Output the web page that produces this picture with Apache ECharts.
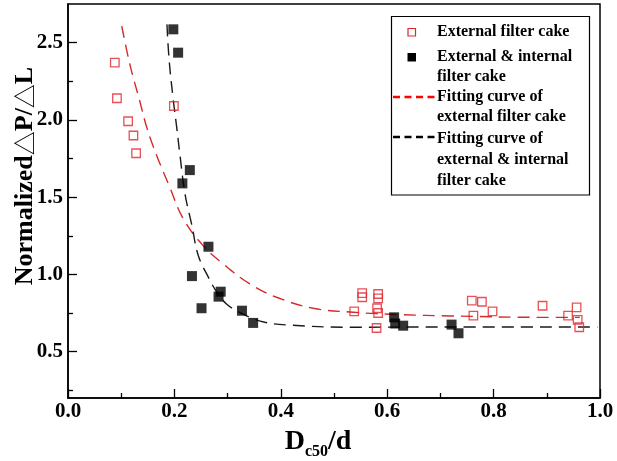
<!DOCTYPE html>
<html><head><meta charset="utf-8">
<script src="https://cdn.jsdelivr.net/npm/echarts@6/dist/echarts.min.js"></script>
<style>html,body{margin:0;background:#fff}#c{width:617px;height:461px}</style>
</head><body><div id="c"></div>
<script>
// External filter cake (open red squares)
const extX = [0.088,0.092,0.113,0.123,0.128,0.199,0.538,0.553,0.553,0.583,0.583,0.581,0.583,0.580,0.759,0.778,0.762,0.798,0.892,0.940,0.956,0.958,0.961];
const extY = [2.371,2.140,1.991,1.899,1.784,2.090,0.761,0.879,0.852,0.873,0.845,0.781,0.750,0.653,0.830,0.823,0.733,0.761,0.797,0.733,0.787,0.705,0.658];
// External & internal filter cake (filled black squares)
const intX = [0.198,0.207,0.229,0.215,0.264,0.233,0.287,0.283,0.251,0.327,0.348,0.613,0.615,0.630,0.721,0.734];
const intY = [2.586,2.435,1.675,1.589,1.179,0.989,0.888,0.856,0.781,0.765,0.686,0.722,0.682,0.668,0.675,0.619];
// Fitting curve of external filter cake
const fitExtX = [0.101,0.117,0.134,0.149,0.167,0.189,0.217,0.254,0.292,0.342,0.392,0.461,0.536,0.624,0.718,0.900,0.962];
const fitExtY = [2.607,2.349,2.133,1.940,1.767,1.584,1.358,1.186,1.067,0.938,0.852,0.781,0.755,0.740,0.731,0.722,0.722];
// Fitting curve of external & internal filter cake
const fitIntX = [0.186,0.190,0.197,0.204,0.211,0.220,0.233,0.245,0.264,0.280,0.298,0.317,0.342,0.370,0.411,0.530,0.718,0.995];
const fitIntY = [2.618,2.392,2.155,1.961,1.757,1.519,1.315,1.121,0.981,0.884,0.808,0.765,0.722,0.690,0.673,0.658,0.660,0.660];
// Tick labels
const xTickLabels = ['0.0','0.2','0.4','0.6','0.8','1.0'];
const yTickValues = [0.5,1.0,1.5,2.0,2.5];
const yMinorTicks = [0.25,0.75,1.25,1.75,2.25];
const legendNames = ['External filter cake','External & internal\nfilter cake','Fitting curve of\nexternal filter cake','Fitting curve of\nexternal & internal\nfilter cake'];

const zip = (a,b) => a.map((v,i)=>[v,b[i]]);
const FONT = '"Liberation Serif","Times New Roman",serif';
const CJK = '"Noto Sans CJK SC","Noto Sans CJK JP",sans-serif';
const RED = '#e0262a';

const chart = echarts.init(document.getElementById('c'), null, {renderer:'canvas'});

const legendRows = [32,57,77,97,117,139,160,181];
const lx = 437;
function txt(t, y){ return {type:'text', x:lx, y:y, z:11, style:{text:t, font:'bold 16px '+FONT, fill:'#000', verticalAlign:'middle'}}; }
const leg1 = legendNames[0].split('\n'), leg2 = legendNames[1].split('\n'), leg3 = legendNames[2].split('\n'), leg4 = legendNames[3].split('\n');

chart.setOption({
  animation:false,
  backgroundColor:'#fff',
  grid:{left:68, right:17, top:4, bottom:63, outerBoundsMode:'none', containLabel:false,
    show:true, borderColor:'#000', borderWidth:1.5, backgroundColor:'transparent'},
  xAxis:{
    type:'value', min:0, max:1, interval:0.2,
    name:'{a|D}{b|c50}{a|/d}', nameLocation:'middle', nameGap:26, nameMoveOverlap:false,
    nameTextStyle:{padding:[0,32,0,0], rich:{
      a:{fontFamily:FONT, fontWeight:'bold', fontSize:28, color:'#000', lineHeight:32, verticalAlign:'bottom'},
      b:{fontFamily:FONT, fontWeight:'bold', fontSize:16, color:'#000', lineHeight:18, verticalAlign:'bottom', padding:[0,0,-4,0]}
    }},
    axisLine:{lineStyle:{color:'#000', width:1.5}},
    axisTick:{inside:true, length:9, lineStyle:{color:'#000', width:1.3}},
    minorTick:{show:true, splitNumber:2, length:5, lineStyle:{color:'#000', width:1.3}},
    splitLine:{show:false},
    axisLabel:{fontFamily:FONT, fontWeight:'bold', fontSize:21, color:'#000', margin:3,
      formatter:(v)=>{const i=Math.round(v/0.2); return xTickLabels[i] ?? '';}}
  },
  yAxis:[{
    type:'value', min:0.2, max:2.75, position:'left',
    name:'{n|Normalized}{t|△}{n|P/}{t|△}{n|L}', nameLocation:'middle', nameRotate:90, nameGap:30, nameMoveOverlap:false,
    nameTextStyle:{padding:[0,0,0,50], rich:{
      n:{fontFamily:FONT, fontWeight:'bold', fontSize:26, color:'#000'},
      t:{fontFamily:CJK, fontWeight:'normal', fontSize:24, color:'#000'}
    }},
    axisLine:{show:true, lineStyle:{color:'#000', width:1.5}},
    axisTick:{inside:true, length:9, customValues:yTickValues, lineStyle:{color:'#000', width:1.3}},
    splitLine:{show:false},
    axisLabel:{customValues:yTickValues, fontFamily:FONT, fontWeight:'bold', fontSize:21, color:'#000', margin:5,
      formatter:(v)=>v.toFixed(1)}
  },{
    type:'value', min:0.2, max:2.75, position:'left', offset:0,
    axisLine:{show:false},
    axisTick:{show:true, inside:true, length:5, customValues:yMinorTicks, lineStyle:{color:'#000', width:1.3}},
    axisLabel:{show:false}, splitLine:{show:false}
  }],
  series:[
    {type:'line', name:legendNames[2], data:zip(fitExtX,fitExtY), smooth:0.4, showSymbol:false, symbol:'none',
      lineStyle:{color:'#d42a2a', width:1.4, type:[12,7]}, z:2},
    {type:'line', name:legendNames[3], data:zip(fitIntX,fitIntY), smooth:0.4, showSymbol:false, symbol:'none',
      lineStyle:{color:'#1a1a1a', width:1.4, type:[12,7]}, z:2},
    {type:'scatter', name:legendNames[0], data:zip(extX,extY), symbol:'rect', symbolSize:8.5,
      itemStyle:{color:'rgba(255,255,255,0)', borderColor:RED, borderWidth:1.3}, z:3},
    {type:'scatter', name:legendNames[1], data:zip(intX,intY), symbol:'rect', symbolSize:10,
      itemStyle:{color:'#000'}, z:4}
  ],
  graphic:[
    {type:'rect', z:10, shape:{x:391.5, y:16.5, width:198, height:178.5}, style:{fill:'#fff', stroke:'#000', lineWidth:1.2}},
    {type:'rect', z:11, shape:{x:408, y:28.5, width:7.5, height:7.5}, style:{fill:'none', stroke:RED, lineWidth:1.2}},
    {type:'rect', z:11, shape:{x:407.5, y:53, width:8.5, height:8.5}, style:{fill:'#000'}},
    {type:'line', z:11, shape:{x1:393, y1:97, x2:435, y2:97}, style:{stroke:'#ff0000', lineWidth:2.5, lineDash:[7,4.5]}},
    {type:'line', z:11, shape:{x1:393, y1:137, x2:435, y2:137}, style:{stroke:'#000', lineWidth:2.5, lineDash:[7,4.5]}},
    txt(leg1[0], legendRows[0]),
    txt(leg2[0], legendRows[1]),
    txt(leg2[1], legendRows[2]),
    txt(leg3[0], legendRows[3]),
    txt(leg3[1], legendRows[4]),
    txt(leg4[0], legendRows[5]),
    txt(leg4[1], legendRows[6]),
    txt(leg4[2], legendRows[7])
  ]
});
</script></body></html>
